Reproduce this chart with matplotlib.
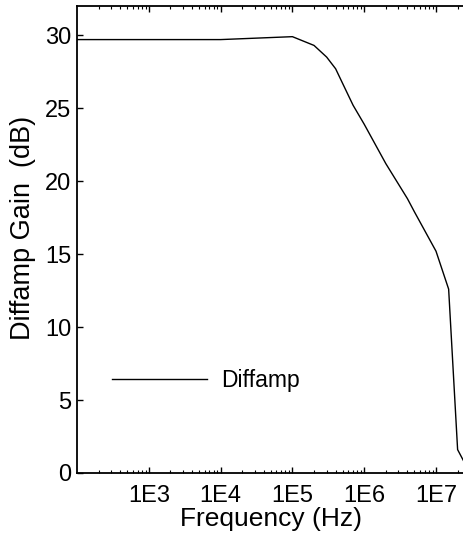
import matplotlib
matplotlib.use("Agg")
import matplotlib.pyplot as plt
from matplotlib.ticker import LogLocator, FixedLocator, NullFormatter

plt.rcParams['font.family'] = ['Liberation Sans', 'DejaVu Sans']

# Differential amplifier frequency response
freq_hz = [1e2, 1e3, 1e4, 1e5, 2e5, 3e5, 4e5, 5e5, 7e5, 1e6, 2e6, 4e6,
           5e6, 1e7, 1.5e7, 2e7, 2.5e7, 3e7]
gain_db = [29.7, 29.7, 29.7, 29.9, 29.3, 28.5, 27.7, 26.7, 25.2, 23.9,
           21.2, 18.8, 17.9, 15.2, 12.6, 1.6, 0.7, 0.0]

xtick_vals = [1e3, 1e4, 1e5, 1e6, 1e7]
xtick_labels = ['1E3', '1E4', '1E5', '1E6', '1E7']
ytick_vals = [0, 5, 10, 15, 20, 25, 30]
series_name = 'Diffamp'

fig = plt.figure(figsize=(4.64, 5.33), dpi=100)
ax = fig.add_axes([0.166, 0.1126, 0.834, 0.8761])

line, = ax.plot(freq_hz, gain_db, color='black', linewidth=1.0, label=series_name)

ax.set_xscale('log')
ax.set_xlim(1e2, 10 ** 7.39)
ax.set_ylim(0, 32)

ax.xaxis.set_major_locator(FixedLocator(xtick_vals))
ax.set_xticklabels(xtick_labels)
ax.xaxis.set_minor_locator(LogLocator(base=10, subs=range(2, 10), numticks=100))
ax.xaxis.set_minor_formatter(NullFormatter())
ax.set_yticks(ytick_vals)

ax.tick_params(axis='both', which='major', direction='in', length=4, width=1,
               labelsize=17, top=True)
ax.tick_params(axis='x', which='major', pad=9)
ax.tick_params(axis='y', which='major', pad=4)
ax.tick_params(axis='x', which='minor', direction='in', length=2.5, width=0.8,
               top=True)

ax.spines['right'].set_visible(False)
for side in ('left', 'bottom', 'top'):
    ax.spines[side].set_linewidth(1.3)

ax.set_xlabel('Frequency (Hz)', fontsize=19, labelpad=0)
ax.set_ylabel('Diffamp Gain  (dB)', fontsize=19.5)
ax.yaxis.set_label_coords(-0.105, 0.525)

ax.legend(handles=[line], loc='center left', bbox_to_anchor=(0.09, 0.197),
          frameon=False, fontsize=16.5, handlelength=4.15, handletextpad=0.6,
          borderpad=0, borderaxespad=0)

fig.savefig('out.png', dpi=100)
